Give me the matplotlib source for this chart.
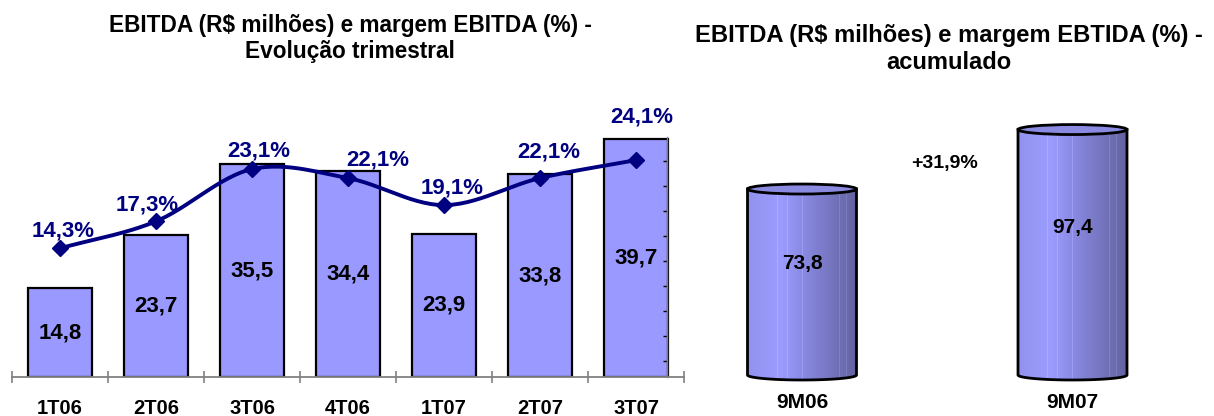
import numpy as np
import matplotlib
matplotlib.use("Agg")
import matplotlib.pyplot as plt
from matplotlib.patches import Ellipse, Polygon

plt.rcParams['font.family'] = ['Liberation Sans', 'DejaVu Sans']
plt.rcParams['font.weight'] = 'bold'

# --------------------------------------------------------------
#  DATA
# --------------------------------------------------------------
quarters = ['1T06', '2T06', '3T06', '4T06', '1T07', '2T07', '3T07']
ebitda_q = [14.8, 23.7, 35.5, 34.4, 23.9, 33.8, 39.7]
margin_q = [14.3, 17.3, 23.1, 22.1, 19.1, 22.1, 24.1]

periods = ['9M06', '9M07']
ebitda_acc = [73.8, 97.4]
growth_label = '+31,9%'

# label offsets in pixels (dx, dy) for the margin labels
margin_offsets = [(3, 17), (-9, 16), (7, 18), (30, 18), (8, 17), (9, 26), (6, 43)]

NAVY = '#000080'
BAR = '#9999FF'
GREY = '#808080'


def br(v, nd=1):
    return f'{v:.{nd}f}'.replace('.', ',')


def smooth(xs, ys, n=30):
    # catmull-rom style smoothing, like excel smoothed lines
    xs = np.asarray(xs, float)
    ys = np.asarray(ys, float)
    px = np.concatenate([[2 * xs[0] - xs[1]], xs, [2 * xs[-1] - xs[-2]]])
    py = np.concatenate([[2 * ys[0] - ys[1]], ys, [2 * ys[-1] - ys[-2]]])
    ox, oy = [], []
    t = np.linspace(0, 1, n)
    for i in range(1, len(px) - 2):
        for p, o in ((px, ox), (py, oy)):
            p0, p1, p2, p3 = p[i - 1], p[i], p[i + 1], p[i + 2]
            o.extend(0.5 * ((2 * p1) + (-p0 + p2) * t +
                            (2 * p0 - 5 * p1 + 4 * p2 - p3) * t ** 2 +
                            (-p0 + 3 * p1 - 3 * p2 + p3) * t ** 3))
    return np.array(ox), np.array(oy)


W, H = 1214, 416
fig = plt.figure(figsize=(W / 100, H / 100), dpi=100)

# --------------------------------------------------------------
#  LEFT: quarterly bars + margin line
# --------------------------------------------------------------
ax1 = fig.add_axes([12 / W, 39 / H, 672 / W, 240 / H])
x = np.arange(len(quarters))
ax1.bar(x, ebitda_q, width=0.667, color=BAR, edgecolor='black', linewidth=1.6, zorder=2)
ax1.set_xlim(-0.5, len(quarters) - 0.5)
ax1.set_ylim(0, 40)
for s in ['top', 'right', 'left']:
    ax1.spines[s].set_visible(False)
ax1.spines['bottom'].set_color(GREY)
ax1.spines['bottom'].set_linewidth(1.3)
ax1.set_yticks([])
ax1.set_xticks(np.arange(-0.5, len(quarters)), labels=[])
ax1.tick_params(axis='x', which='major', direction='inout', length=9, color=GREY, width=1.2)
ax1.set_xticks(x, labels=quarters, minor=True)
ax1.tick_params(axis='x', which='minor', length=0, pad=16, labelsize=14.5)

for xi, v in zip(x, ebitda_q):
    ax1.text(xi, v / 2, br(v), ha='center', va='center', fontsize=16, color='black', zorder=3)

ax2 = ax1.twinx()
ax2.set_ylim(0, 240 / 9)
for s in ['top', 'left', 'bottom']:
    ax2.spines[s].set_visible(False)
ax2.spines['right'].set_position(('data', 6.32))
ax2.spines['right'].set_color(GREY)
ax2.spines['right'].set_linewidth(1.0)
ax2.set_yticks(np.arange(24, 0, -25 / 9), labels=[])
ax2.tick_params(axis='y', direction='in', length=3, color='black', width=1)

sx, sy = smooth(x, margin_q)
ax2.plot(sx, sy, color=NAVY, linewidth=2.8, zorder=4, solid_capstyle='round')
ax2.plot(x, margin_q, linestyle='none', marker='D', markersize=8, color=NAVY, zorder=5)
for xi, v, (dx, dy) in zip(x, margin_q, margin_offsets):
    ax2.annotate(br(v) + '%', (xi, v), xytext=(dx, dy), textcoords='offset pixels',
                 ha='center', va='center', fontsize=16, color=NAVY, zorder=6)

fig.text(350 / W, 1 - 38.5 / H, 'EBITDA (R$ milhões) e margem EBITDA (%) -\nEvolução trimestral',
         ha='center', va='center', fontsize=16.3, linespacing=1.2, multialignment='center')

# --------------------------------------------------------------
#  RIGHT: accumulated cylinders
# --------------------------------------------------------------
ppu = 2.52
ylo, yhi = -8, 110
ax3 = fig.add_axes([700 / W, (41 + ylo * ppu) / H, 480 / W, (yhi - ylo) * ppu / H])
ax3.set_axis_off()

# cylinder shading: light on the left, darker to the right, with thin light stripes
n = 240
f = np.linspace(0, 1, n)
stops = [0.0, 0.3, 0.6, 1.0]
cols = np.array([[146, 146, 240], [156, 156, 255], [130, 130, 214], [98, 98, 160]]) / 255
grad = np.stack([np.interp(f, stops, cols[:, c]) for c in range(3)], axis=1)
for s in [0.12, 0.2, 0.27, 0.36, 0.5, 0.66, 0.77, 0.84, 0.9]:
    grad[int(s * n)] = np.clip(grad[int(s * n)] + 0.07, 0, 1)
grad = np.tile(grad[None, :, :], (2, 1, 1))

cw = 109 / 270.5
eh = 10 / ppu
for xi, v in enumerate(ebitda_acc):
    x0, x1 = xi - cw / 2, xi + cw / 2
    t = np.linspace(np.pi, 2 * np.pi, 60)
    ex = xi + cw / 2 * np.cos(t)
    ey = eh / 2 * np.sin(t)
    verts = [(x0, v)] + list(zip(ex, ey)) + [(x1, v)]
    clip = Polygon(verts, closed=True, facecolor='none', edgecolor='none', transform=ax3.transData)
    ax3.add_patch(clip)
    im = ax3.imshow(grad, extent=[x0, x1, -eh / 2, v], aspect='auto', origin='lower',
                    interpolation='nearest', zorder=2)
    im.set_clip_path(clip)
    ax3.plot(np.concatenate([[x0], ex, [x1]]), np.concatenate([[v], ey, [v]]),
             color='black', linewidth=2, zorder=3, solid_joinstyle='round')
    ax3.add_patch(Ellipse((xi, v), cw, eh, facecolor='#8A8AE0', edgecolor='black',
                          linewidth=2, zorder=4))
    ax3.text(xi, v * 0.6, br(v), ha='center', va='center', fontsize=15, zorder=5)
    ax3.annotate(periods[xi], (xi, 0), xytext=(0, -28), textcoords='offset pixels',
                 ha='center', va='center', fontsize=15, annotation_clip=False)

ax3.set_xlim(-102 / 270.5, 378 / 270.5)
ax3.set_ylim(ylo, yhi)
ax3.text(0.525, 84, growth_label, ha='center', va='center', fontsize=14)

fig.text(949 / W, 1 - 49 / H, 'EBITDA (R$ milhões) e margem EBTIDA (%) -\nacumulado',
         ha='center', va='center', fontsize=17.1, linespacing=1.17, multialignment='center')

fig.savefig('out.png', dpi=100)
